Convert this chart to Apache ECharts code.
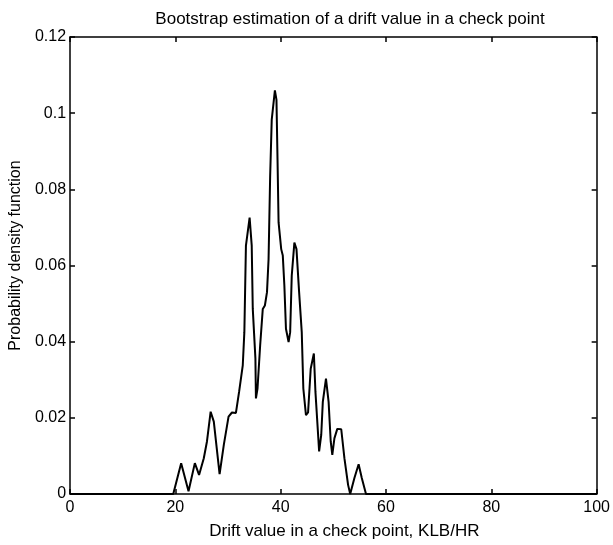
<!DOCTYPE html>
<html><head><meta charset="utf-8">
<script src="https://cdn.jsdelivr.net/npm/echarts@6/dist/echarts.min.js"></script>
<style>html,body{margin:0;padding:0;background:#fff}#c{width:613px;height:545px}</style>
</head><body><div id="c"></div>
<script>
const driftX = [0, 19.6, 21.1, 22.5, 23.7, 24.5, 25.4, 26.0, 26.7, 27.3, 28.4, 29.2, 30.1, 30.75, 31.5, 32.1, 32.8, 33.1, 33.4, 34.1, 34.5, 34.7, 35.2, 35.3, 35.6, 36.1, 36.6, 37.0, 37.4, 37.7, 38.0, 38.3, 38.9, 39.2, 39.4, 39.6, 40.1, 40.4, 40.7, 41.0, 41.5, 41.8, 42.1, 42.6, 43.0, 43.5, 44.0, 44.3, 44.8, 45.2, 45.7, 46.3, 46.6, 47.3, 47.7, 48.0, 48.6, 49.1, 49.5, 49.8, 50.2, 50.75, 51.5, 52.1, 52.8, 53.2, 54.0, 54.8, 55.4, 56.2, 100];
const pdfY = [0, 0, 0.0081, 0.0007, 0.0081, 0.005, 0.0094, 0.0138, 0.0216, 0.019, 0.0052, 0.0129, 0.0203, 0.0214, 0.0213, 0.0268, 0.0338, 0.0425, 0.0652, 0.0726, 0.0652, 0.0486, 0.0356, 0.0251, 0.0277, 0.039, 0.0486, 0.0495, 0.053, 0.0617, 0.0835, 0.0983, 0.106, 0.1035, 0.0878, 0.0713, 0.0643, 0.0626, 0.0547, 0.0434, 0.0399, 0.0425, 0.0573, 0.066, 0.0643, 0.053, 0.0425, 0.0277, 0.0207, 0.0214, 0.0329, 0.0369, 0.0268, 0.0112, 0.0155, 0.0242, 0.0303, 0.0242, 0.0138, 0.0103, 0.0146, 0.0171, 0.017, 0.0094, 0.0024, 0, 0.0042, 0.0078, 0.0042, 0, 0];
const titleText = 'Bootstrap estimation of a drift value in a check point';
const xName = 'Drift value in a check point, KLB/HR';
const yName = 'Probability density function';

const font = 'Liberation Sans, Arial, sans-serif';
const chart = echarts.init(document.getElementById('c'));
function axisCommon() {
  return {
    axisLine: {show: true, onZero: false, lineStyle: {color: '#000', width: 1.5}},
    axisTick: {show: true, inside: true, length: 5, lineStyle: {color: '#000', width: 1.5}},
    splitLine: {show: false}
  };
}
chart.setOption({
  animation: false,
  backgroundColor: '#fff',
  title: {text: titleText, left: 345, textAlign: 'center', top: 6,
    textStyle: {fontFamily: font, fontSize: 17, fontWeight: 'normal', color: '#000'}},
  grid: {left: 67, right: 16, top: 37, bottom: 49, containLabel: false},
  xAxis: [
    Object.assign({type: 'value', min: 0, max: 100, interval: 20, position: 'bottom',
      name: xName, nameLocation: 'middle', nameGap: 29,
      nameTextStyle: {fontFamily: font, fontSize: 17, color: '#000', padding: [0, 0, 0, 22]},
      axisLabel: {fontFamily: font, fontSize: 16, color: '#000', margin: 6}}, axisCommon()),
    Object.assign({type: 'value', min: 0, max: 100, interval: 20, position: 'top',
      axisLabel: {show: false}}, axisCommon())
  ],
  yAxis: [
    Object.assign({type: 'value', min: 0, max: 0.12, interval: 0.02, position: 'left',
      name: yName, nameLocation: 'middle', nameGap: 46,
      nameTextStyle: {fontFamily: font, fontSize: 16, color: '#000', padding: [0, 0, 0, 20]},
      axisLabel: {fontFamily: font, fontSize: 16, color: '#000', margin: 4}}, axisCommon()),
    Object.assign({type: 'value', min: 0, max: 0.12, interval: 0.02, position: 'right',
      axisLabel: {show: false}}, axisCommon())
  ],
  series: [{
    type: 'line', symbol: 'none', smooth: false,
    data: driftX.map((x, i) => [x, pdfY[i]]),
    lineStyle: {color: '#000', width: 2}
  }]
});
</script></body></html>
